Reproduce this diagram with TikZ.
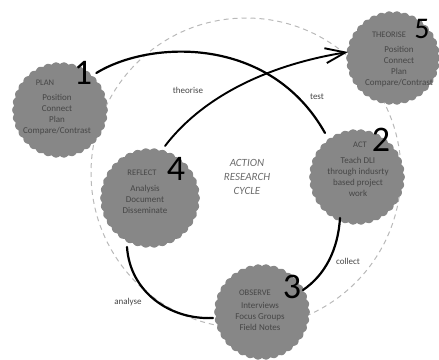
\documentclass[tikz,border=0pt]{standalone}
\usepackage{fontspec}
\setmainfont{Carlito}
\usetikzlibrary{arrows.meta}
\definecolor{blobgray}{RGB}{135,135,135}
\definecolor{txtgray}{RGB}{70,70,70}
\definecolor{dashgray}{RGB}{185,185,185}
\tikzset{
	blobtext/.style={align=center, font=\fontsize{9}{11}\selectfont, text=txtgray, inner sep=0pt},
	blobhead/.style={font=\fontsize{8.5}{9}\selectfont, text=txtgray, inner sep=0pt},
	bignum/.style={font=\fontsize{36}{36}\selectfont, inner sep=0pt},
	arclabel/.style={font=\fontsize{9}{10}\selectfont, text=txtgray, inner sep=1pt},
	cycleline/.style={line width=2.2pt, line cap=round},
}
\begin{document}
\begin{tikzpicture}[x=1pt,y=-1pt]
		\useasboundingbox (0,0) rectangle (439,359);
		%Dashed Cycle
		\draw[dashgray, line width=1pt, dash pattern=on 5pt off 4pt] (246,173) circle[radius=155pt];
		%Scalloped Blobs
		\foreach \cx/\cy/\r in {60/110/46, 393/58/45, 357/177/46, 150/198/48, 262/312/46}
		\fill[blobgray] plot[domain=0:360, samples=361] ({\cx+(\r+1.8*abs(cos(17*\x)))*cos(\x)}, {\cy+(\r+1.8*abs(cos(17*\x)))*sin(\x)}) -- cycle;
		%Plan
		\node[blobhead] (planhead) at (45,83) {PLAN};
		\node[blobtext, anchor=north] (plantext) at (57,94) {Position\\Connect\\Plan\\Compare/Contrast};
		\node[bignum] (n1) at (83,73) {1};
		%Theorise
		\node[blobhead] (theohead) at (389,35) {THEORISE};
		\node[bignum, font=\fontsize{30}{30}\selectfont] (n5) at (422,29) {5};
		\node[blobtext, anchor=north] (theotext) at (399,46) {Position\\Connect\\Plan\\Compare/Contrast};
		%Act
		\node[blobhead] (acthead) at (360,145) {ACT};
		\node[bignum] (n2) at (381,140) {2};
		\node[blobtext, anchor=north] (acttext) at (358,157) {Teach DLI\\through indusrty\\based project\\work};
		%Reflect
		\node[blobhead] (reflhead) at (142,173) {REFLECT};
		\node[bignum] (n4) at (176,169) {4};
		\node[blobtext, anchor=north] (refltext) at (145,185) {Analysis\\Document\\Disseminate};
		%Observe
		\node[blobhead] (obshead) at (255,293) {OBSERVE};
		\node[bignum] (n3) at (292,287) {3};
		\node[blobtext, anchor=north] (obstext) at (260,302) {Interviews\\Focus Groups\\Field Notes};
		%Centre
		\node[align=center, font=\fontsize{11}{14}\selectfont\itshape, text=txtgray!80] (centre) at (247,177) {ACTION\\RESEARCH\\CYCLE};
		%Connector Ends
		\coordinate (actin) at (325,133);
		\coordinate (actout) at (340,218);
		\coordinate (obsin) at (303,290);
		\coordinate (obsout) at (213,318);
		\coordinate (reflin) at (127,247);
		\coordinate (reflout) at (165,146);
		\coordinate (theoin) at (348,52);
		%Cycle Arcs
		\draw[cycleline] (n1.east) ++(4,0) .. controls (150,40) and (270,35) .. (actin);
		\draw[cycleline] (actout) .. controls (338,250) and (325,275) .. (obsin);
		\draw[cycleline] (obsout) .. controls (170,320) and (130,292) .. (reflin);
		\draw[line width=1.9pt, line cap=round, -{Straight Barb[length=20pt, width=15pt, line width=1.9pt]}] (reflout) .. controls (200,100) and (262,66) .. (theoin);
		%Arc Labels
		\node[arclabel] (ltheo) at (188,90) {theorise};
		\node[arclabel] (ltest) at (317,97) {test};
		\node[arclabel] (lcoll) at (348,261) {collect};
		\node[arclabel] (lanal) at (128,302) {analyse};
\end{tikzpicture}
\end{document}
